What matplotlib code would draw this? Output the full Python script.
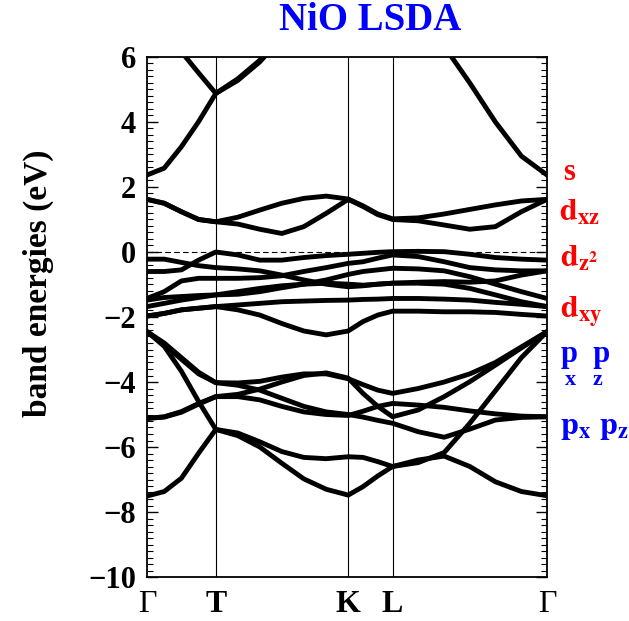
import numpy as np
import matplotlib.pyplot as plt
from matplotlib.ticker import MultipleLocator

plt.rcParams['font.family'] = ['Liberation Serif', 'DejaVu Serif']
plt.rcParams['font.weight'] = 'bold'
plt.rcParams['mathtext.fontset'] = 'stix'
plt.rcParams['mathtext.default'] = 'bf'

nan = np.nan

# k-path (Γ - T - K - L - Γ), fraction of path length
k = [0.0, 0.043, 0.086, 0.129, 0.172, 0.227, 0.282, 0.337, 0.392, 0.448,
     0.503, 0.540, 0.577, 0.614, 0.678, 0.743, 0.807, 0.871, 0.936, 1.0]
k_ticks = [0.0, 0.172, 0.503, 0.614, 1.0]
k_labels = ['Γ', 'T', 'K', 'L', 'Γ']

# conduction bands (eV)
c1 = [2.37, 2.58, 3.24, 4.01, 4.88, 5.28, 5.85, 6.60] + [nan] * 12
c2 = [6.90, 6.80, 6.16, 5.51, 4.88, 5.33, 5.90, 6.65] + [nan] * 12
c3 = [nan] * 15 + [6.33, 5.20, 4.00, 2.95, 2.37]

# Ni d (eg) bands above E_F
e1 = [1.62, 1.50, 1.24, 1.00, 0.93, 1.07, 1.29, 1.50, 1.65, 1.72,
      1.63, 1.42, 1.17, 1.02, 1.05, 1.17, 1.31, 1.45, 1.57, 1.62]
e2 = [1.62, 1.50, 1.24, 1.00, 0.93, 0.86, 0.70, 0.57, 0.78, 1.19,
      1.62, 1.40, 1.15, 1.00, 0.96, 0.83, 0.70, 0.78, 1.24, 1.62]

# Ni d bands below E_F
d1 = [-0.60, -0.60, -0.55, -0.25, 0.00, -0.09, -0.25, -0.25, -0.17, -0.11,
      -0.07, -0.04, -0.01, 0.01, 0.02, 0.01, -0.07, -0.17, -0.22, -0.25]
d2 = [-0.22, -0.22, -0.32, -0.42, -0.48, -0.52, -0.58, -0.71, -0.86, -0.99,
      -1.07, -1.04, -0.99, -0.96, -0.93, -0.91, -0.93, -0.89, -0.71, -0.58]
d3 = [-1.43, -1.22, -0.89, -0.81, -0.81, -0.81, -0.79, -0.73, -0.60, -0.48,
      -0.35, -0.30, -0.19, -0.09, -0.14, -0.30, -0.48, -0.55, -0.58, -0.58]
d4 = [-1.48, -1.40, -1.37, -1.34, -1.32, -1.30, -1.22, -1.10, -0.99, -0.86,
      -0.69, -0.60, -0.55, -0.50, -0.52, -0.58, -0.76, -0.99, -1.22, -1.43]
d5 = [-1.68, -1.58, -1.48, -1.40, -1.32, -1.22, -1.12, -1.04, -0.99, -0.96,
      -0.99, -1.02, -0.99, -0.96, -0.96, -0.99, -1.12, -1.32, -1.53, -1.68]
d6 = [-1.97, -1.89, -1.78, -1.73, -1.68, -1.63, -1.58, -1.53, -1.51, -1.49,
      -1.48, -1.46, -1.45, -1.43, -1.43, -1.45, -1.48, -1.55, -1.61, -1.68]
d7 = [-1.97, -1.89, -1.78, -1.73, -1.68, -1.78, -1.94, -2.20, -2.43, -2.55,
      -2.43, -2.14, -1.94, -1.82, -1.82, -1.84, -1.84, -1.86, -1.92, -1.97]

# O p bands
p1 = [-2.45, -2.80, -3.25, -3.70, -4.02, -4.03, -3.98, -3.85, -3.75, -3.75,
      -3.90, -4.08, -4.25, -4.35, -4.20, -4.00, -3.75, -3.40, -2.92, -2.45]
p2 = [-2.45, -2.85, -3.30, -3.75, -4.02, -4.10, -4.25, -4.50, -4.75, -4.92,
      -5.00, -5.08, -5.18, -5.27, -5.53, -5.70, -5.45, -5.17, -5.09, -5.07]
p3 = [-5.12, -5.07, -4.91, -4.66, -4.45, -4.38, -4.22, -4.00, -3.80, -3.72,
      -3.88, -4.35, -4.75, -5.07, -4.86, -4.45, -3.99, -3.48, -2.95, -2.45]
p4 = [-5.12, -5.08, -4.93, -4.68, -4.45, -4.45, -4.55, -4.75, -4.92, -5.00,
      -5.03, -4.90, -4.75, -4.66, -4.71, -4.78, -4.89, -4.98, -5.05, -5.07]
p5 = [-2.45, -2.90, -3.67, -4.60, -5.46, -5.57, -5.84, -6.14, -6.32, -6.36,
      -6.30, -6.32, -6.45, -6.60, -6.48, -6.17, -5.27, -4.27, -3.25, -2.45]
p6 = [-7.51, -7.37, -6.96, -6.19, -5.46, -5.65, -6.00, -6.50, -6.98, -7.30,
      -7.48, -7.22, -6.89, -6.60, -6.40, -6.28, -6.60, -7.07, -7.37, -7.50]

bands = [c1, c2, c3, e1, e2, d1, d2, d3, d4, d5, d6, d7,
         p1, p2, p3, p4, p5, p6]

fig = plt.figure(figsize=(6.29, 6.21), dpi=100)
ax = fig.add_axes([147 / 629, 44 / 621, 400 / 629, 520 / 621])

for b in bands:
    ax.plot(k, b, color='black', lw=3.5, solid_capstyle='round',
            solid_joinstyle='round')

for x in k_ticks[1:-1]:
    ax.axvline(x, color='black', lw=0.8)
ax.axhline(0, color='black', lw=0.8, ls=(0, (5, 3)))

ax.set_xlim(0, 1)
ax.set_ylim(-10, 6)
ax.set_yticks(range(-10, 7, 2))
ax.set_yticklabels([str(v).replace('-', '\u2212') for v in range(-10, 7, 2)])
ax.yaxis.set_minor_locator(MultipleLocator(0.2))
ax.tick_params(axis='y', which='both', direction='in', left=True, right=True,
               labelsize=22, pad=8)
ax.tick_params(axis='y', which='major', length=8, width=1)
ax.tick_params(axis='y', which='minor', length=4, width=0.8)
ax.set_xticks(k_ticks)
ax.set_xticklabels(k_labels, fontsize=23)
ax.tick_params(axis='x', length=0, pad=9)
for lab in ax.get_xticklabels():
    if lab.get_text() == 'Γ':
        lab.set_fontweight('normal')
for s in ax.spines.values():
    s.set_linewidth(1.3)

fig.text(38 / 629, 1 - 283 / 621, 'band energies (eV)', rotation=90,
         fontsize=24, ha='center', va='center')
fig.text(370 / 629, 1 - 20 / 621, 'NiO LSDA', color='blue', fontsize=28,
         ha='center', va='center')

# orbital character labels
tr = ax.get_yaxis_transform()
ax.text(1.04, 2.46, 's', color='red', fontsize=22, transform=tr,
        va='center', clip_on=False)
ax.text(1.03, 1.22, r'$d_{xz}$', color='red', fontsize=23, transform=tr,
        va='center', clip_on=False)
ax.text(1.033, -0.2, r'$d_{z^2}$', color='red', fontsize=23, transform=tr,
        va='center', clip_on=False)
ax.text(1.033, -1.85, r'$d_{xy}$', color='red', fontsize=23, transform=tr,
        va='center', clip_on=False)
ax.text(1.035, -3.15, 'p  p', color='blue', fontsize=22, transform=tr,
        va='center', clip_on=False)
ax.text(1.045, -3.95, 'x   z', color='blue', fontsize=16, transform=tr,
        va='center', clip_on=False)
ax.text(1.033, -5.4, r'$p_x\ p_z$', color='blue', fontsize=23, transform=tr,
        va='center', clip_on=False)

fig.savefig('out.png', dpi=100)
